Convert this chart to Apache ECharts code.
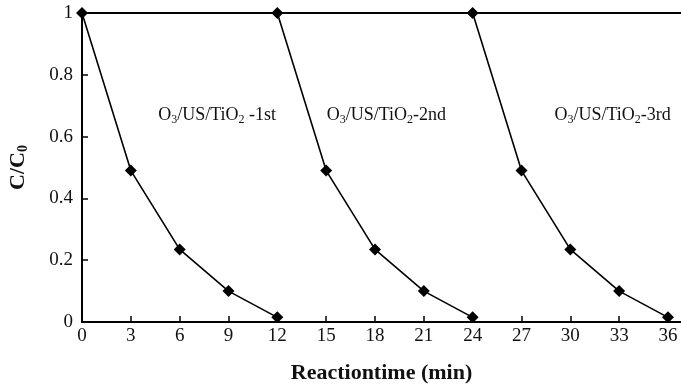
<!DOCTYPE html>
<html><head><meta charset="utf-8">
<script src="https://cdn.jsdelivr.net/npm/echarts@6/dist/echarts.min.js"></script>
<style>html,body{margin:0;padding:0;background:#fff}#c{width:681px;height:386px}</style>
</head><body><div id="c"></div>
<script>
const run1X = [0, 3, 6, 9, 12];
const run1Y = [1, 0.49, 0.235, 0.1, 0.015];
const run2X = [12, 15, 18, 21, 24];
const run2Y = [1, 0.49, 0.235, 0.1, 0.015];
const run3X = [24, 27, 30, 33, 36];
const run3Y = [1, 0.49, 0.235, 0.1, 0.015];
const xTicks = [0, 3, 6, 9, 12, 15, 18, 21, 24, 27, 30, 33, 36];
const runLabels = ['-1st', '-2nd', '-3rd'];
const labelPos = [[8.3, 0.67], [18.7, 0.67], [32.6, 0.67]];

const font = 'Liberation Serif';
function pair(xs, ys) { return xs.map((x, i) => [x, ys[i]]); }
function mkSeries(xs, ys, idx) {
  return {
    type: 'line', data: pair(xs, ys),
    symbol: 'diamond', symbolSize: 12,
    lineStyle: { color: '#000', width: 1.6 },
    itemStyle: { color: '#000' },
    animation: false,
    markPoint: {
      symbol: 'circle', symbolSize: 0,
      data: [{ coord: labelPos[idx], value: 0 }],
      label: {
        show: true, position: 'inside',
        formatter: '{n|O}{s|3}{n|/US/TiO}{s|2}{n|' + (idx === 0 ? ' ' : '') + runLabels[idx] + '}',
        rich: {
          n: { fontFamily: font, fontSize: 18, color: '#111', verticalAlign: 'middle' },
          s: { fontFamily: font, fontSize: 12, color: '#111', padding: [9, 0, 0, 0], verticalAlign: 'middle' }
        }
      }
    }
  };
}
const chart = echarts.init(document.getElementById('c'), null, { renderer: 'canvas' });
chart.setOption({
  backgroundColor: '#fff',
  grid: { left: 82, right: 0, top: 13, bottom: 64, containLabel: false, outerBoundsMode: 'none' },
  xAxis: [{
    type: 'value', min: 0, max: 36.8, interval: 3, position: 'bottom',
    axisLine: { show: true, lineStyle: { color: '#000', width: 2 } },
    axisTick: { show: true, inside: true, length: 6, customValues: xTicks, lineStyle: { color: '#000', width: 1.5 } },
    axisLabel: { customValues: xTicks, fontFamily: font, fontSize: 19, color: '#111', margin: 5 },
    splitLine: { show: false },
    name: 'Reactiontime (min)', nameLocation: 'middle', nameGap: 40,
    nameTextStyle: { fontFamily: font, fontSize: 22, fontWeight: 'bold', color: '#111' }
  }, {
    type: 'value', min: 0, max: 36.8, position: 'top',
    axisLine: { show: true, onZero: false, lineStyle: { color: '#000', width: 2 } },
    axisTick: { show: false }, axisLabel: { show: false }, splitLine: { show: false }
  }],
  yAxis: {
    type: 'value', min: 0, max: 1, interval: 0.2,
    axisLine: { show: true, lineStyle: { color: '#000', width: 2 } },
    axisTick: { show: true, inside: true, length: 6, lineStyle: { color: '#000', width: 1.5 } },
    axisLabel: { fontFamily: font, fontSize: 19, color: '#111', margin: 9 },
    splitLine: { show: false },
    name: '{a|C/C}{b|0}', nameLocation: 'middle', nameGap: 52,
    nameTextStyle: {
      rich: {
        a: { fontFamily: font, fontSize: 22, fontWeight: 'bold', color: '#111' },
        b: { fontFamily: font, fontSize: 14, fontWeight: 'bold', color: '#111', padding: [9, 0, 0, 0] }
      }
    }
  },
  series: [mkSeries(run1X, run1Y, 0), mkSeries(run2X, run2Y, 1), mkSeries(run3X, run3Y, 2)]
});
</script></body></html>
